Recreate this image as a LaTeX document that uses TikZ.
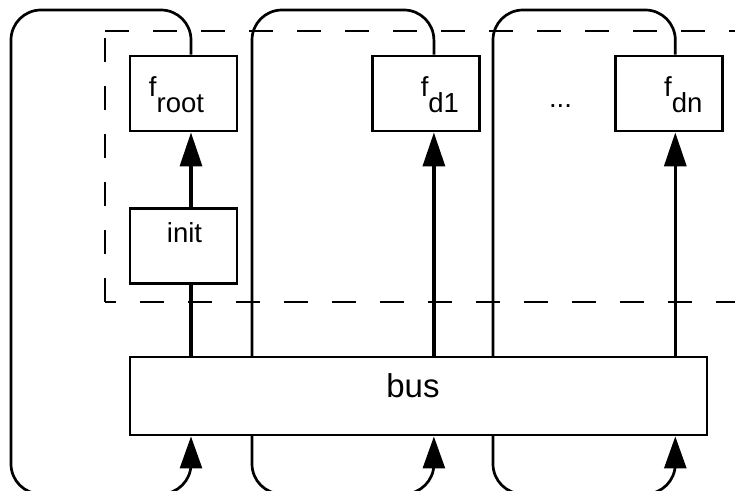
\documentclass[tikz,border=0pt]{standalone}
\usepackage{fontspec}
\setmainfont{Liberation Sans}
\usetikzlibrary{arrows.meta, positioning, backgrounds}
\tikzset{
  block/.style={rectangle, draw=black, line width=1.45pt, fill=white,
                minimum width=53.5pt, minimum height=37.5pt, inner sep=0pt},
  busblock/.style={block, minimum width=288.5pt, minimum height=39pt},
  boxtext/.style={inner sep=0pt, font=\fontsize{13.75}{16}\selectfont},
  arrow/.style={-{Triangle[length=17pt, width=11pt]}, line width=1.7pt},
  wire/.style={line width=1.7pt},
  feed/.style={line width=1.35pt, rounded corners=15pt,
               -{Triangle[length=16pt, width=11pt]}},
  dashbox/.style={line width=1.4pt, dash pattern=on 12pt off 12pt},
}
\newcommand{\fsub}[1]{f\raisebox{-8pt}{#1}}

\begin{document}
\begin{tikzpicture}[x=0.5pt, y=-0.5pt]
  \useasboundingbox (0,0) rectangle (735,491);

  % Function blocks
  \node[block] (froot) at (183.5,93.5) {};
  \node[block, below=37.25pt of froot] (init) {};
  \node[block, right=66.5pt of froot] (fd1) {};
  \node[block, right=66.5pt of fd1] (fdn) {};
  \node[busblock] (bus) at (418.5,396) {};

  % Columns of the connectors
  \coordinate (c1) at ([xshift=3.75pt]froot.center);
  \coordinate (c2) at ([xshift=3.75pt]fd1.center);
  \coordinate (c3) at ([xshift=3pt]fdn.center);

  % Texts
  \node[boxtext] (froot-t) at ([shift={(-3.5pt,-0.8pt)}]froot.center) {\fsub{root}};
  \node[boxtext] (fd1-t) at ([shift={(6.75pt,-0.8pt)}]fd1.center) {\fsub{d1}};
  \node[boxtext] (fdn-t) at ([shift={(7pt,-0.8pt)}]fdn.center) {\fsub{dn}};
  \node[boxtext] (init-t) at ([shift={(0.5pt,6.6pt)}]init.center) {init};
  \node[boxtext, font=\fontsize{16.5}{19}\selectfont] (bus-t)
    at ([shift={(-2.75pt,5.25pt)}]bus.center) {bus};
  \node[boxtext] (dots) at (560.5,106) {...};

  % Bus to functions
  \draw[arrow] (init.north -| c1) -- (froot.south -| c1);
  \draw[wire] (bus.north -| c1) -- (init.south -| c1);
  \draw[arrow] (bus.north -| c2) -- (fd1.south -| c2);
  \draw[arrow] (bus.north -| c3) -- (fdn.south -| c3);

  % Dashed region
  \draw[dashbox] (105,302) -- (105,31);
  \draw[dashbox] (105,31) -- (745,31);
  \draw[dashbox, dash phase=6.5pt] (105,302) -- (745,302);

  % Feedback loops back into the bus
  \begin{scope}[on background layer]
    \draw[feed] (froot.north -| c1) |- (11,10) -- (11,494) -| (bus.south -| c1);
    \draw[feed] (fd1.north -| c2) |- (252,10) -- (252,494) -| (bus.south -| c2);
    \draw[feed] (fdn.north -| c3) |- (493,10) -- (493,494) -| (bus.south -| c3);
  \end{scope}
\end{tikzpicture}
\end{document}
